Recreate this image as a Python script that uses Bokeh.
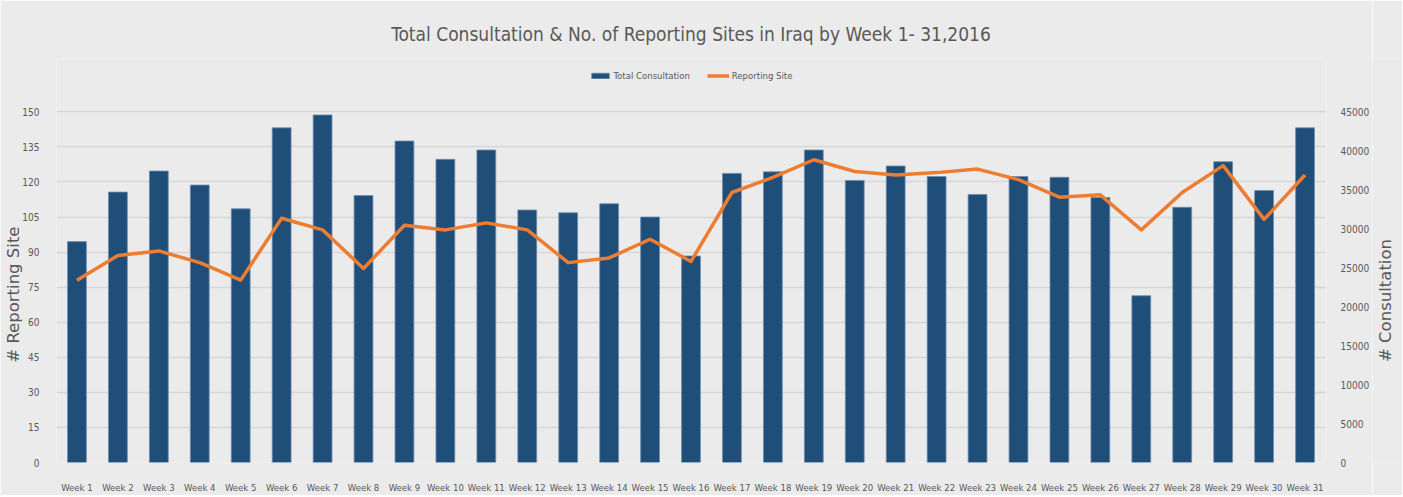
import math
from bokeh.plotting import figure
from bokeh.layouts import row
from bokeh.models import (Range1d, LinearAxis, FixedTicker, Legend, LegendItem,
                          ColumnDataSource, Label)
from bokeh.embed import file_html
from bokeh.resources import INLINE

weeks = ["Week 1", "Week 2", "Week 3", "Week 4", "Week 5", "Week 6", "Week 7",
         "Week 8", "Week 9", "Week 10", "Week 11", "Week 12", "Week 13", "Week 14",
         "Week 15", "Week 16", "Week 17", "Week 18", "Week 19", "Week 20", "Week 21",
         "Week 22", "Week 23", "Week 24", "Week 25", "Week 26", "Week 27", "Week 28",
         "Week 29", "Week 30", "Week 31"]

consultation = [28350, 34700, 37400, 35600, 32550, 42950, 44600, 34250, 41250, 38900,
                40100, 32400, 32050, 33200, 31500, 26500, 37100, 37300, 40100, 36200,
                38050, 36700, 34400, 36700, 36600, 34000, 21400, 32750, 38600, 34900,
                42950]

reporting = [78, 88.5, 90.5, 85.5, 78, 104.5, 99.5, 83, 101.5, 99.5, 102.5, 99.5,
             85.5, 87.5, 95.5, 86, 115.5, 122, 129.5, 124.5, 123, 124, 125.5, 121,
             113.5, 114.5, 99.5, 115.5, 127, 104, 123]

left_ticks = [0, 15, 30, 45, 60, 75, 90, 105, 120, 135, 150]
right_ticks = [0, 5000, 10000, 15000, 20000, 25000, 30000, 35000, 40000, 45000]

BG = "#EBEBEB"
TXT = "#595959"
NARROW = "'DejaVu Sans Condensed', 'Liberation Sans', sans-serif"

W_MAIN, W_SIDE, H = 1372, 30, 495
LEFT, RIGHT, TOP, BOTTOM = 56, 38, 58, 28
FRAME_H = H - TOP - BOTTOM
PX_150 = 355.0          # pixel height of the 0..150 band
LEFT_MAX, RIGHT_MAX = 150, 45000
y_top = LEFT_MAX * FRAME_H / PX_150
band_mid_from_bottom = BOTTOM + PX_150 / 2 - 7   # visual centre of the axis titles

# the frame reaches above the 0..150 band (room for the legend), so the left
# axis title is padded at its upper end to sit centred on the band
PAD_L = "\u00a0" * 13

src = ColumnDataSource(dict(week=weeks, cons=consultation, rep=reporting))

p = figure(x_range=weeks, y_range=Range1d(0, y_top), width=W_MAIN, height=H,
           output_backend="svg", toolbar_location=None,
           background_fill_color=BG, border_fill_color=BG,
           min_border_left=LEFT, min_border_right=RIGHT, min_border_bottom=BOTTOM,
           min_border_top=TOP, outline_line_color=None)

p.extra_y_ranges = {"cons": Range1d(0, RIGHT_MAX * y_top / LEFT_MAX)}

bars = p.vbar(x="week", top="cons", width=0.46, source=src, y_range_name="cons",
              fill_color="#1F4E79", line_color="#6D8DB0", line_width=0.8)
line = p.line(x="week", y="rep", source=src, line_color="#ED7D31", line_width=3.5,
              line_join="round")

p.yaxis.ticker = FixedTicker(ticks=left_ticks)
p.yaxis.axis_label = "# Reporting Site" + PAD_L
raxis = LinearAxis(y_range_name="cons", ticker=FixedTicker(ticks=right_ticks))
p.add_layout(raxis, "right")

for ax in [p.xaxis[0], p.yaxis[0], raxis]:
    ax.axis_line_color = None
    ax.major_tick_line_color = None
    ax.minor_tick_line_color = None
    ax.major_label_text_font = NARROW
    ax.major_label_text_font_size = "10px"
    ax.major_label_text_color = TXT
    ax.axis_label_text_font = "DejaVu Sans"
    ax.axis_label_text_font_size = "16.5px"
    ax.axis_label_text_font_style = "normal"
    ax.axis_label_text_color = TXT

p.xaxis.major_label_text_font_size = "9.5px"
p.xaxis.major_label_standoff = 13
p.yaxis[0].major_label_standoff = 11
p.yaxis[0].axis_label_standoff = -4
raxis.major_label_standoff = 9

p.xgrid.grid_line_color = None
p.ygrid.grid_line_color = "#D6D6D6"
p.ygrid.grid_line_width = 1.5

legend = Legend(items=[LegendItem(label="Total Consultation", renderers=[bars]),
                       LegendItem(label="Reporting Site", renderers=[line])],
                orientation="horizontal", location="top_center",
                background_fill_alpha=0, border_line_color=None,
                label_text_font=NARROW, label_text_font_size="9.5px",
                label_text_color=TXT, glyph_width=22, glyph_height=7,
                label_height=12, label_standoff=3, spacing=17, padding=2,
                margin=11)
p.add_layout(legend)

p.title.text = "Total Consultation & No. of Reporting Sites in Iraq by Week 1- 31,2016"
p.title.align = "center"
p.title.text_font = NARROW
p.title.text_font_size = "19px"
p.title.text_font_style = "normal"
p.title.text_color = TXT
p.title.standoff = 27

# narrow strip on the right carrying the right axis title, reading bottom-to-top
side = figure(width=W_SIDE, height=H, x_range=Range1d(0, W_SIDE),
              y_range=Range1d(0, H), output_backend="svg", toolbar_location=None,
              x_axis_type=None, y_axis_type=None, min_border=0,
              background_fill_color=BG, border_fill_color=BG,
              outline_line_color=None)
side.add_layout(Label(x=W_SIDE * 0.43, y=band_mid_from_bottom, text="# Consultation",
                      angle=math.pi / 2, text_align="center", text_baseline="middle",
                      text_font="DejaVu Sans", text_font_size="16.5px",
                      text_color=TXT))

layout = row(p, side)

open("out.html", "w").write(file_html(layout, INLINE))
